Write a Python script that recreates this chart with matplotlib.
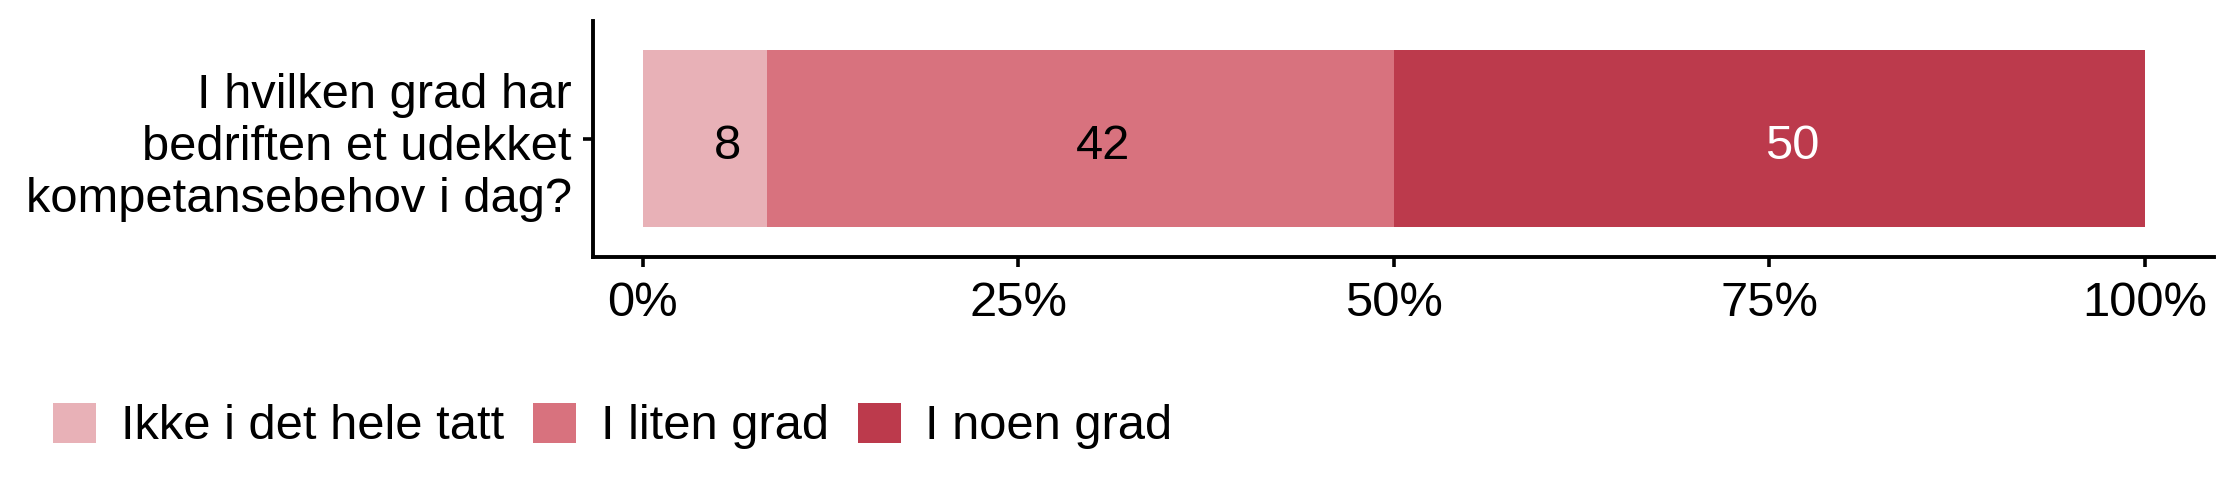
import matplotlib
matplotlib.use("Agg")
import matplotlib.pyplot as plt
from matplotlib.ticker import FuncFormatter
from matplotlib.patches import Patch

question = "I hvilken grad har\nbedriften et udekket\nkompetansebehov i dag?"
categories = ["Ikke i det hele tatt", "I liten grad", "I noen grad"]
values = [8.3, 41.7, 50.0]
colors = ["#E8B1B7", "#D8727E", "#BC3A4C"]
label_colors = ["black", "black", "white"]
xticks = [0, 25, 50, 75, 100]

plt.rcParams["font.family"] = ["Liberation Sans", "DejaVu Sans"]
FS = 17.6
NUDGE = 1.5

fig = plt.figure(figsize=(11.2, 2.48), dpi=200)
ax = fig.add_axes([0.2647, 0.4819, 0.9884 - 0.2647, 0.9577 - 0.4819])

left = 0
for cat, v, c, lc in zip(categories, values, colors, label_colors):
    ax.barh([0], [v], left=left, height=0.9, color=c, label=cat)
    ax.annotate(f"{v:.0f}", xy=(left + v / 2 + NUDGE, 0), xytext=(0, -7.3),
                textcoords="offset points", ha="center", va="baseline",
                fontsize=FS, color=lc)
    left += v

ax.set_xlim(-3.3, 104.6)
ax.set_ylim(-0.6, 0.6)
ax.set_yticks([0])
ax.set_yticklabels([question], fontsize=FS, ha="right", linespacing=1.2)
ax.set_xticks(xticks)
ax.xaxis.set_major_formatter(FuncFormatter(lambda x, p: f"{int(x)}%"))
ax.tick_params(axis="x", labelsize=FS, length=3.6, width=1.3, pad=5)
ax.tick_params(axis="y", labelsize=FS, length=3.6, width=1.3, pad=4)
for s in ["top", "right"]:
    ax.spines[s].set_visible(False)
for s in ["left", "bottom"]:
    ax.spines[s].set_linewidth(1.4)

handles = [Patch(facecolor=c, edgecolor="none") for c in colors]
fig.legend(handles, categories, loc="center left", bbox_to_anchor=(0.0237, 0.141),
           ncol=3, frameon=False, fontsize=FS, handlelength=0.88, handleheight=0.88,
           handletextpad=0.5, columnspacing=0.6, borderpad=0, borderaxespad=0)

fig.savefig("out.png", dpi=200)
